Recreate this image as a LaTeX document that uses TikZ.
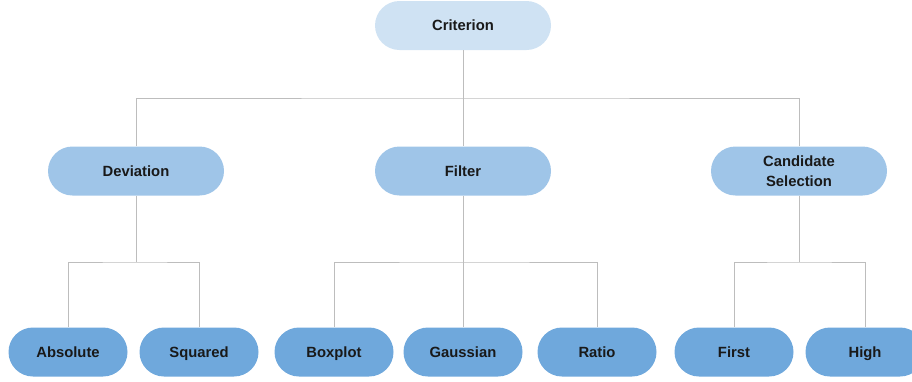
\documentclass[tikz,border=0pt]{standalone}
\usepackage{fontspec}
\setmainfont{Liberation Sans}
\definecolor{lvlA}{HTML}{CFE2F3}
\definecolor{lvlB}{HTML}{9FC5E8}
\definecolor{lvlC}{HTML}{6FA8DC}
\definecolor{conn}{HTML}{BDBDBD}
\begin{document}
\begin{tikzpicture}[x=1pt,y=-1pt,
  pill/.style={rounded corners=24.5pt, minimum height=49pt, inner sep=0pt, align=center,
    font=\fontsize{14.8}{19.5}\selectfont\bfseries, text=black!90},
  oneline/.style={text height=12pt, text depth=1.4pt},
  topbox/.style={pill, oneline, fill=lvlA, minimum width=176pt},
  midbox/.style={pill, fill=lvlB, minimum width=176pt},
  leafbox/.style={pill, oneline, fill=lvlC, minimum width=119pt},
  conn/.style={draw=conn, line width=0.9pt}]
\useasboundingbox (0,0) rectangle (912,381);
\node[topbox] (crit) at (463,25.5) {Criterion};
\node[midbox, oneline] (dev) at (136,171) {Deviation};
\node[midbox, oneline] (filt) at (463,171) {Filter};
\node[midbox] (cand) at (799,171) {Candidate\\Selection};
\node[leafbox] (abs) at (68,352) {Absolute};
\node[leafbox] (sq) at (199,352) {Squared};
\node[leafbox] (box) at (334,352) {Boxplot};
\node[leafbox] (gau) at (463,352) {Gaussian};
\node[leafbox] (rat) at (597,352) {Ratio};
\node[leafbox] (fir) at (734,352) {First};
\node[leafbox] (hig) at (865,352) {High};
\coordinate (b1) at (463,98);
\coordinate (b2) at (136,262);
\coordinate (b3) at (463,262);
\coordinate (b4) at (799,262);
\draw[conn] (crit.south) -- (b1);
\draw[conn] (dev.north) |- (b1) -| (cand.north);
\draw[conn] (b1) -- (filt.north);
\draw[conn] (dev.south) -- (b2);
\draw[conn] (abs.north) |- (b2) -| (sq.north);
\draw[conn] (filt.south) -- (b3);
\draw[conn] (box.north) |- (b3) -| (rat.north);
\draw[conn] (b3) -- (gau.north);
\draw[conn] (cand.south) -- (b4);
\draw[conn] (fir.north) |- (b4) -| (hig.north);
\end{tikzpicture}
\end{document}
